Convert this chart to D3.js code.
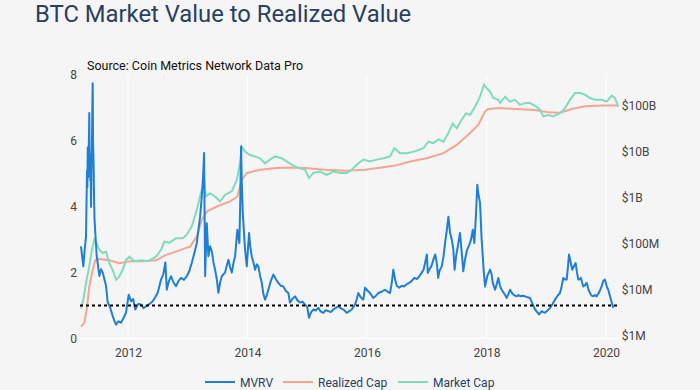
<!DOCTYPE html>
<html><head><meta charset="utf-8">
<script src="https://cdn.jsdelivr.net/npm/d3@7"></script>
<style>html,body{margin:0;padding:0;background:#f5f5f5;}svg{display:block;font-family:Roboto,sans-serif;}</style>
</head><body><svg id="c" width="700" height="390"></svg>
<script>
// ---- data (time as decimal year) ----
const mvrvT = [2011.213,2011.232,2011.252,2011.275,2011.297,2011.306,2011.314,2011.320,2011.326,2011.332,2011.342,2011.348,2011.352,2011.358,2011.364,2011.369,2011.375,2011.381,2011.386,2011.392,2011.398,2011.404,2011.409,2011.415,2011.420,2011.426,2011.432,2011.440,2011.453,2011.476,2011.500,2011.520,2011.550,2011.577,2011.605,2011.632,2011.660,2011.700,2011.744,2011.770,2011.799,2011.840,2011.883,2011.925,2011.967,2012.012,2012.050,2012.085,2012.122,2012.170,2012.218,2012.260,2012.301,2012.360,2012.413,2012.455,2012.497,2012.552,2012.590,2012.624,2012.648,2012.685,2012.720,2012.760,2012.803,2012.845,2012.887,2012.935,2012.982,2013.025,2013.066,2013.110,2013.150,2013.205,2013.233,2013.255,2013.272,2013.289,2013.317,2013.344,2013.372,2013.401,2013.430,2013.456,2013.485,2013.511,2013.540,2013.568,2013.595,2013.623,2013.650,2013.679,2013.710,2013.736,2013.765,2013.791,2013.829,2013.863,2013.878,2013.891,2013.905,2013.920,2013.958,2013.987,2014.025,2014.045,2014.070,2014.100,2014.126,2014.155,2014.181,2014.210,2014.238,2014.265,2014.293,2014.320,2014.348,2014.390,2014.432,2014.475,2014.515,2014.560,2014.599,2014.640,2014.683,2014.711,2014.750,2014.795,2014.840,2014.879,2014.920,2014.962,2015.000,2015.029,2015.065,2015.101,2015.140,2015.185,2015.225,2015.269,2015.310,2015.352,2015.395,2015.436,2015.480,2015.520,2015.560,2015.603,2015.630,2015.660,2015.700,2015.744,2015.770,2015.799,2015.830,2015.854,2015.895,2015.938,2015.967,2016.010,2016.050,2016.080,2016.105,2016.150,2016.189,2016.245,2016.301,2016.345,2016.385,2016.415,2016.440,2016.470,2016.497,2016.540,2016.581,2016.620,2016.664,2016.705,2016.748,2016.790,2016.832,2016.875,2016.915,2016.945,2016.971,2017.000,2017.016,2017.043,2017.075,2017.110,2017.140,2017.167,2017.190,2017.210,2017.250,2017.280,2017.305,2017.335,2017.361,2017.390,2017.418,2017.444,2017.465,2017.490,2017.528,2017.555,2017.585,2017.610,2017.640,2017.675,2017.712,2017.740,2017.769,2017.795,2017.824,2017.845,2017.863,2017.891,2017.915,2017.936,2017.955,2017.975,2018.013,2018.059,2018.085,2018.104,2018.120,2018.142,2018.170,2018.197,2018.225,2018.254,2018.300,2018.338,2018.365,2018.393,2018.420,2018.449,2018.478,2018.505,2018.535,2018.561,2018.600,2018.644,2018.690,2018.728,2018.770,2018.812,2018.850,2018.879,2018.900,2018.924,2018.950,2018.979,2019.020,2019.063,2019.105,2019.146,2019.190,2019.230,2019.260,2019.285,2019.315,2019.342,2019.365,2019.381,2019.410,2019.436,2019.465,2019.493,2019.515,2019.536,2019.560,2019.582,2019.600,2019.620,2019.650,2019.677,2019.705,2019.732,2019.760,2019.787,2019.815,2019.844,2019.885,2019.928,2019.955,2019.983,2020.010,2020.038,2020.080,2020.122,2020.150,2020.179,2020.195,2020.206];
const mvrvV = [2.8,2.5,2.19,2.7,3.1,4.2,5.1,4.6,5.8,4.9,5.7,6.3,6.85,5.0,5.6,4.8,5.3,4.0,4.7,5.5,6.2,7.2,7.75,6.0,5.6,5.1,4.2,3.6,3.2,2.5,2.2,1.9,2.1,2.0,1.8,1.6,1.1,0.95,0.68,0.55,0.42,0.52,0.48,0.62,0.79,1.33,1.13,1.2,0.88,1.05,1.03,0.92,0.98,1.05,1.13,1.25,1.39,1.79,1.95,2.31,1.48,1.75,1.89,1.7,1.59,1.75,1.84,1.78,1.89,2.05,2.3,2.6,2.9,3.7,4.3,4.9,5.63,1.89,3.5,2.5,2.8,2.65,2.3,2.09,1.8,1.39,1.7,1.89,1.95,2.0,2.2,2.39,2.15,2.0,2.3,2.5,3.3,2.9,4.2,5.83,4.6,3.8,2.7,2.19,3.2,2.8,2.5,2.3,2.09,2.25,2.19,1.9,1.69,1.35,1.18,1.3,1.48,1.75,1.94,1.8,1.69,1.6,1.58,1.45,1.38,1.09,1.2,1.28,1.15,1.09,1.12,1.03,0.95,0.63,0.8,0.88,0.85,0.93,0.82,0.78,0.86,0.83,0.8,0.88,0.93,0.98,0.92,0.88,0.84,0.78,0.82,0.88,0.95,1.03,1.2,1.38,1.25,1.18,1.54,1.45,1.38,1.3,1.23,1.3,1.38,1.42,1.48,1.42,1.38,1.7,2.09,1.79,1.6,1.54,1.6,1.58,1.65,1.69,1.75,1.84,1.8,1.89,2.0,2.09,2.3,2.55,1.99,2.1,2.19,2.4,2.55,2.29,1.84,2.05,2.19,2.5,2.9,3.3,3.7,3.2,3.0,2.7,2.09,2.5,2.9,3.2,2.6,2.04,2.4,2.7,2.85,3.0,3.3,2.9,3.8,4.67,4.4,4.11,3.1,2.5,2.0,1.58,1.9,2.09,1.95,1.69,1.6,1.48,1.65,1.84,1.6,1.48,1.35,1.23,1.35,1.48,1.4,1.33,1.3,1.28,1.32,1.28,1.3,1.28,1.25,1.23,1.05,0.88,0.8,0.73,0.78,0.83,0.8,0.78,0.85,0.93,1.05,1.18,1.3,1.38,1.6,1.84,1.79,1.79,2.2,2.55,2.3,2.09,2.2,2.29,2.0,1.79,1.8,1.84,1.7,1.58,1.62,1.69,1.5,1.38,1.3,1.28,1.32,1.28,1.4,1.58,1.75,1.79,1.6,1.48,1.2,0.93];

// Realized cap, USD billions
const rcT = [2011.213,2011.269,2011.309,2011.352,2011.409,2011.453,2011.520,2011.687,2011.854,2012.022,2012.246,2012.469,2012.636,2012.803,2012.971,2013.038,2013.150,2013.233,2013.317,2013.485,2013.707,2013.829,2013.903,2013.987,2014.209,2014.489,2014.711,2014.962,2015.297,2015.632,2015.967,2016.246,2016.469,2016.720,2016.999,2017.277,2017.501,2017.724,2017.863,2017.975,2018.030,2018.226,2018.477,2018.812,2019.034,2019.230,2019.426,2019.649,2019.928,2020.206];
const rcV = [0.00158,0.00191,0.00372,0.0117,0.0269,0.0447,0.0468,0.0437,0.0380,0.0417,0.0417,0.0437,0.0575,0.0676,0.0813,0.0871,0.145,0.331,0.501,0.646,0.832,1.07,2.45,3.47,4.07,4.47,4.57,4.47,4.07,3.89,4.07,4.57,5.01,6.17,7.24,9.33,14.1,25.7,38.9,75.9,85.1,89.1,85.1,81.3,72.4,70.8,85.1,97.7,102,102];

// Market cap, USD billions
const mcT = [2011.213,2011.252,2011.297,2011.352,2011.397,2011.436,2011.476,2011.520,2011.577,2011.632,2011.687,2011.744,2011.799,2011.854,2011.911,2011.967,2012.022,2012.105,2012.218,2012.330,2012.469,2012.552,2012.608,2012.691,2012.803,2012.915,2012.982,2013.066,2013.150,2013.217,2013.272,2013.300,2013.372,2013.456,2013.540,2013.623,2013.736,2013.819,2013.874,2013.908,2013.958,2014.042,2014.126,2014.209,2014.293,2014.377,2014.460,2014.572,2014.656,2014.740,2014.850,2014.962,2015.029,2015.101,2015.213,2015.326,2015.436,2015.548,2015.660,2015.744,2015.828,2015.938,2016.050,2016.162,2016.273,2016.385,2016.457,2016.552,2016.664,2016.803,2016.942,2017.026,2017.110,2017.193,2017.277,2017.361,2017.434,2017.501,2017.585,2017.657,2017.724,2017.808,2017.891,2017.958,2018.003,2018.059,2018.114,2018.197,2018.226,2018.310,2018.393,2018.477,2018.561,2018.644,2018.728,2018.840,2018.895,2018.951,2019.034,2019.118,2019.230,2019.314,2019.397,2019.481,2019.565,2019.649,2019.732,2019.816,2019.928,2020.012,2020.095,2020.151,2020.206];
const mcV = [0.00398,0.00603,0.0141,0.0324,0.0741,0.123,0.102,0.0741,0.0631,0.0676,0.0380,0.0269,0.0166,0.0195,0.0269,0.0447,0.0525,0.0417,0.0437,0.0417,0.0525,0.0741,0.112,0.105,0.132,0.132,0.158,0.240,0.550,1.26,2.45,1.07,1.26,1.07,0.832,1.17,1.38,2.45,5.62,12.9,10.0,8.51,7.94,7.24,5.62,6.76,7.94,7.24,6.17,5.25,4.47,4.07,2.69,3.47,3.72,3.16,3.72,3.47,3.47,4.07,5.25,6.76,6.17,6.76,7.24,7.94,12.0,9.33,9.33,10.2,12.0,16.6,15.5,18.6,16.6,25.7,41.7,32.4,50.1,69.2,63.1,95.5,158,288,240,204,148,135,115,158,123,135,105,115,115,95.5,81.3,58.9,63.1,58.9,69.2,89.1,135,191,191,174,148,135,135,123,166,148,95.5];

const seriesNames = ["MVRV","Realized Cap","Market Cap"];
const seriesColors = ["#1f7fd4","#f4a595","#7fdcb8"];
const xTickYears = [2012,2014,2016,2018,2020];
const leftTicks = [0,2,4,6,8];
const rightTicks = [0.001,0.01,0.1,1,10,100];
const rightTickLabels = ["$1M","$10M","$100M","$1B","$10B","$100B"];
const refLine = 1;
const titleText = "BTC Market Value to Realized Value";
const sourceText = "Source: Coin Metrics Network Data Pro";

// ---- helpers ----
function toDate(t){const y=Math.floor(t);const a=Date.UTC(y,0,1),b=Date.UTC(y+1,0,1);return new Date(a+(t-y)*(b-a));}
const mvrv = mvrvT.map((t,i)=>({d:toDate(t),v:mvrvV[i]}));
const rc = rcT.map((t,i)=>({d:toDate(t),v:rcV[i]}));
const mc = mcT.map((t,i)=>({d:toDate(t),v:mcV[i]}));

const svg = d3.select("#c");
const L=80,R=618.3,T=75,B=339;
svg.append("rect").attr("width",700).attr("height",390).attr("fill","#f5f5f5");

const x = d3.scaleUtc().domain([toDate(mvrvT[0]),toDate(mvrvT[mvrvT.length-1])]).range([81,R]);
const yL = d3.scaleLinear().domain([0,8]).range([338.5,T]);
const yR = d3.scaleLog().domain([Math.pow(10,-3.07),Math.pow(10,2.67)]).range([B,T]);

// grid
const gx = svg.append("g");
gx.selectAll("line").data(xTickYears).join("line")
  .attr("x1",d=>x(Date.UTC(d,0,1))).attr("x2",d=>x(Date.UTC(d,0,1)))
  .attr("y1",T).attr("y2",B).attr("stroke","#ffffff").attr("stroke-width",1);
svg.append("line").attr("x1",L).attr("x2",R).attr("y1",yL(0)).attr("y2",yL(0)).attr("stroke","#ffffff").attr("stroke-width",1.5);

// axes
const xAxis = d3.axisBottom(x).tickValues(xTickYears.map(y=>new Date(Date.UTC(y,0,1)))).tickFormat(d3.utcFormat("%Y")).tickSize(0).tickPadding(9);
const gxa = svg.append("g").attr("transform",`translate(0,${B})`).call(xAxis);
const lAxis = d3.axisLeft(yL).tickValues(leftTicks).tickFormat(d3.format("d")).tickSize(0).tickPadding(3);
const gla = svg.append("g").attr("transform",`translate(${L},0)`).call(lAxis);
const rAxis = d3.axisRight(yR).tickValues(rightTicks).tickFormat((d,i)=>rightTickLabels[i]).tickSize(0).tickPadding(4);
const gra = svg.append("g").attr("transform",`translate(${R-0.5},0)`).call(rAxis);
[gxa,gla,gra].forEach(g=>{g.select(".domain").remove();g.selectAll("text").attr("fill","#444").style("font-size","12px").style("font-family","Roboto,sans-serif");});

// lines
svg.append("clipPath").attr("id","pc").append("rect").attr("x",L).attr("y",T-5).attr("width",R-L+1).attr("height",B-T+10);
const plot = svg.append("g").attr("clip-path","url(#pc)");
const lineR = d3.line().x(d=>x(d.d)).y(d=>yR(d.v));
const lineL = d3.line().x(d=>x(d.d)).y(d=>yL(d.v));
plot.append("path").datum(rc).attr("d",lineR).attr("fill","none").attr("stroke",seriesColors[1]).attr("stroke-width",2);
plot.append("path").datum(mc).attr("d",lineR).attr("fill","none").attr("stroke",seriesColors[2]).attr("stroke-width",2);
plot.append("path").datum(mvrv).attr("d",lineL).attr("fill","none").attr("stroke",seriesColors[0]).attr("stroke-width",2).attr("stroke-linejoin","round");
plot.append("line").attr("x1",L).attr("x2",R).attr("y1",yL(refLine)).attr("y2",yL(refLine))
  .attr("stroke","#000").attr("stroke-width",2).attr("stroke-dasharray","3,3");

// title & source
svg.append("text").attr("x",35).attr("y",22).text(titleText).attr("fill","#2a3f5f").style("font-size","23.8px");
svg.append("text").attr("x",87).attr("y",70).text(sourceText).attr("fill","#111").style("font-size","12.5px");

// legend
const legX = [205,283,398];
const lg = svg.append("g");
seriesNames.forEach((n,i)=>{
  lg.append("line").attr("x1",legX[i]).attr("x2",legX[i]+30).attr("y1",382).attr("y2",382).attr("stroke",seriesColors[i]).attr("stroke-width",2);
  lg.append("text").attr("x",legX[i]+35).attr("y",386.5).text(n).attr("fill","#2a3f5f").style("font-size","12px");
});
</script></body></html>
